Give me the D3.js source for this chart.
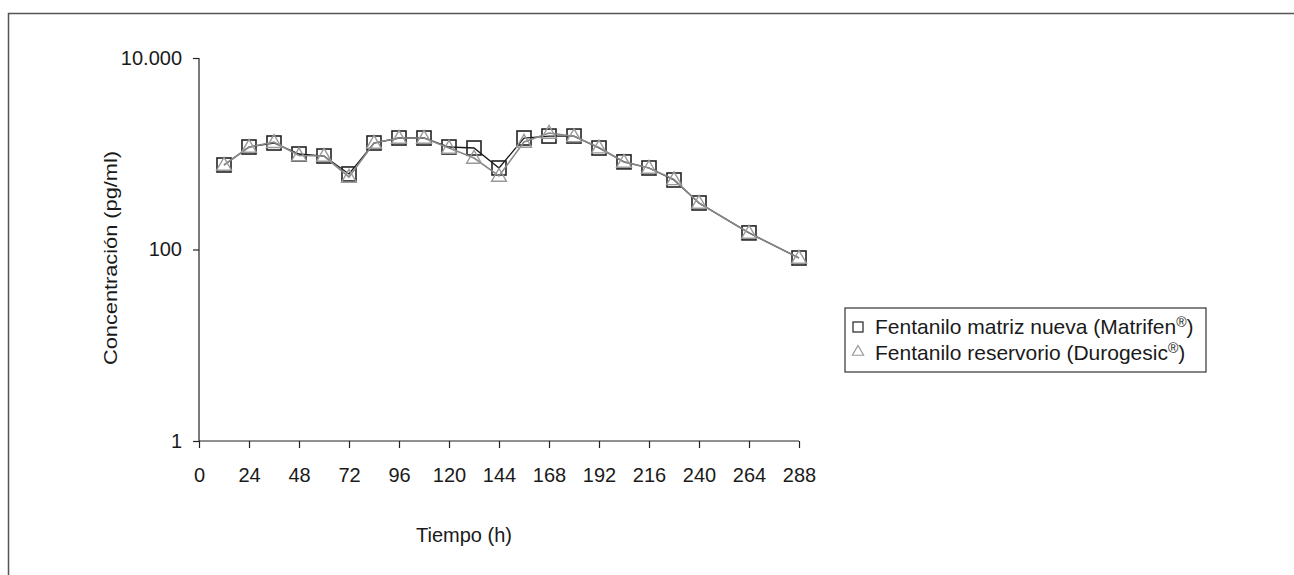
<!DOCTYPE html>
<html lang="es">
<head>
	<title> Concentración de fentanilo </title>
	<meta charset="utf-8">
	<script src="https://d3js.org/d3.v7.min.js" charset="utf-8"></script>
</head>
<style>
	body
	{
		margin: 0;
		background-color: #ffffff;
	}

	svg text
	{
		font-family: "Liberation Sans", Arial, sans-serif;
		font-size: 20px;
		fill: #1a1a1a;
	}

	.axis path, .axis line
	{
		stroke: #222;
		stroke-width: 1.2;
	}
</style>

<body>

	<svg id="chart" width="1294" height="575"></svg>
	<script type="text/javascript">

		// horas de muestreo
		var horas = [12, 24, 36, 48, 60, 72, 84, 96, 108, 120, 132, 144, 156, 168, 180, 192, 204, 216, 228, 240, 264, 288];

		// concentraciones (pg/ml)
		var matrifen = [763, 1176, 1295, 994, 947, 615, 1295, 1460, 1460, 1176, 1148, 710, 1460, 1531, 1531, 1148, 822, 710, 532, 306, 149, 81.5];
		var durogesic = [763, 1176, 1320, 960, 947, 572, 1295, 1460, 1460, 1150, 903, 586, 1327, 1648, 1520, 1160, 822, 710, 540, 306, 149, 81.5];

		var xTicks = [0, 24, 48, 72, 96, 120, 144, 168, 192, 216, 240, 264, 288];
		var yTicks = [1, 100, 10000];
		var yTickLabels = ['1', '100', '10.000'];

		var svg = d3.select('#chart'),
			margin = {top: 58, left: 199},
			width = 600,
			height = 383;

		// marco (solo borde superior e izquierdo visibles)
		svg.append('path')
			.attr('d', 'M8.5,575 L8.5,13.5 L1294,13.5')
			.attr('fill', 'none')
			.attr('stroke', '#555')
			.attr('stroke-width', 1.5);

		var x = d3.scaleLinear().domain([0, 288]).range([0, width]),
			y = d3.scaleLog().domain([1, 10000]).range([height, 0]);

		var g = svg.append('g')
			.attr('transform', 'translate(' + margin.left + ',' + margin.top + ')');

		g.append('g')
			.attr('class', 'axis axis--x')
			.attr('transform', 'translate(0,' + height + ')')
			.call(d3.axisBottom(x).tickValues(xTicks).tickSize(7).tickPadding(20))
			.call(function(a) { a.select('.domain').attr('d', 'M0,0H' + width); });

		g.append('g')
			.attr('class', 'axis axis--y')
			.call(d3.axisLeft(y).tickValues(yTicks).tickSize(6).tickPadding(11)
				.tickFormat(function(d, i) { return yTickLabels[i]; }))
			.call(function(a) { a.select('.domain').attr('d', 'M0,' + height + 'V0'); });

		svg.selectAll('.axis text').attr('fill', '#1a1a1a').style('font-size', '20px');

		g.append('text')
			.attr('transform', 'translate(-88,' + 200 + ') rotate(-90)')
			.attr('text-anchor', 'middle')
			.attr('dy', '0.35em')
			.style('font-size', '18px')
			.attr('textLength', 214)
			.attr('lengthAdjust', 'spacingAndGlyphs')
			.text('Concentración (pg/ml)');

		g.append('text')
			.attr('x', 265)
			.attr('y', 484)
			.attr('text-anchor', 'middle')
			.text('Tiempo (h)');

		var line = function(vals) {
			return d3.line()
				.x(function(d, i) { return x(horas[i]); })
				.y(function(d) { return y(d); })(vals);
		};

		// Matrifen: linea negra, cuadrados
		g.append('path')
			.attr('d', line(matrifen))
			.attr('fill', 'none')
			.attr('stroke', '#1a1a1a')
			.attr('stroke-width', 1.3);

		g.selectAll('.sq')
			.data(matrifen)
			.enter().append('rect')
			.attr('class', 'sq')
			.attr('x', function(d, i) { return x(horas[i]) - 7; })
			.attr('y', function(d) { return y(d) - 7; })
			.attr('width', 14)
			.attr('height', 14)
			.attr('fill', 'none')
			.attr('stroke', '#222')
			.attr('stroke-width', 1.6);

		// Durogesic: linea gris, triangulos
		g.append('path')
			.attr('d', line(durogesic))
			.attr('fill', 'none')
			.attr('stroke', '#888')
			.attr('stroke-width', 1.6);

		var tri = d3.symbol().type(d3.symbolTriangle).size(95);

		g.selectAll('.tri')
			.data(durogesic)
			.enter().append('path')
			.attr('class', 'tri')
			.attr('d', tri)
			.attr('transform', function(d, i) { return 'translate(' + x(horas[i]) + ',' + (y(d) + 1) + ')'; })
			.attr('fill', 'none')
			.attr('stroke', '#999')
			.attr('stroke-width', 1.4);

		// leyenda
		var leg = svg.append('g').attr('transform', 'translate(845,308)');

		leg.append('rect')
			.attr('width', 361)
			.attr('height', 64)
			.attr('fill', 'none')
			.attr('stroke', '#333')
			.attr('stroke-width', 1.2);

		leg.append('rect')
			.attr('x', 8).attr('y', 14)
			.attr('width', 10).attr('height', 10)
			.attr('fill', 'none')
			.attr('stroke', '#222')
			.attr('stroke-width', 1.2);

		leg.append('path')
			.attr('d', d3.symbol().type(d3.symbolTriangle).size(55))
			.attr('transform', 'translate(13,44)')
			.attr('fill', 'none')
			.attr('stroke', '#999')
			.attr('stroke-width', 1.2);

		var t1 = leg.append('text').attr('x', 30).attr('y', 26).style('font-size', '21px');
		t1.append('tspan').text('Fentanilo matriz nueva (Matrifen');
		t1.append('tspan').style('font-size', '14px').attr('dy', '-7').text('®');
		t1.append('tspan').attr('dy', '7').text(')');

		var t2 = leg.append('text').attr('x', 30).attr('y', 52).style('font-size', '21px');
		t2.append('tspan').text('Fentanilo reservorio (Durogesic');
		t2.append('tspan').style('font-size', '14px').attr('dy', '-7').text('®');
		t2.append('tspan').attr('dy', '7').text(')');
	</script>
</body>
</html>
